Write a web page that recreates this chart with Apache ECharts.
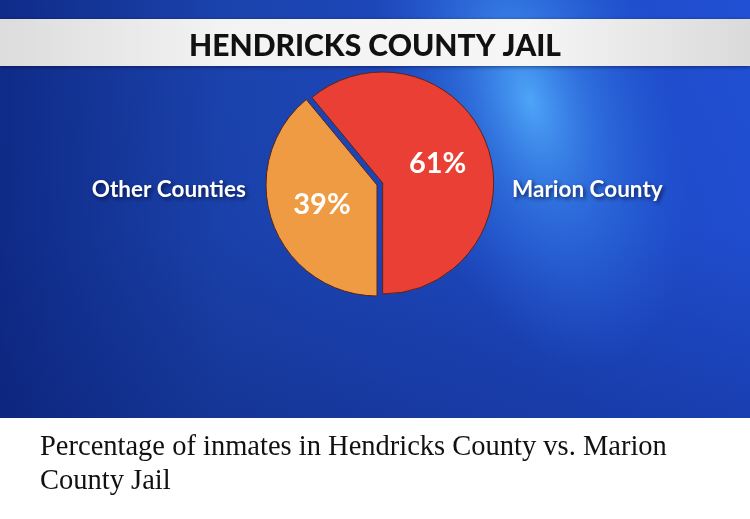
<!DOCTYPE html>
<html>
<head>
<meta charset="utf-8">
<script src="https://cdn.jsdelivr.net/npm/echarts@6/dist/echarts.min.js"></script>
<style>
  html, body { margin: 0; padding: 0; background: #fff; }
  #main { width: 750px; height: 519px; }
</style>
</head>
<body>
<div id="main"></div>
<script>
// chart data
const categories = ['Other Counties', 'Marion County'];
const shares = [39, 61];
const chartTitle = 'HENDRICKS COUNTY JAIL';
const caption = 'Percentage of inmates in Hendricks County vs. Marion\nCounty Jail';

const sliceColors = ['#ef9b43', '#e93f34'];
const cx = 377, cy = 185, radius = 111;

const chart = echarts.init(document.querySelector('#main'));

const pieData = categories.map((name, i) => ({
    name: name,
    value: shares[i],
    selected: i === 1,
    itemStyle: { color: sliceColors[i] }
}));

const labelShadow = {
    textShadowColor: 'rgba(0, 0, 30, 0.65)',
    textShadowBlur: 4,
    textShadowOffsetX: 2,
    textShadowOffsetY: 2
};

let option = {
    animation: false,
    graphic: [
        // blue studio background
        {
            type: 'rect', z: -10, silent: true,
            shape: { x: 0, y: 0, width: 750, height: 418 },
            style: {
                fill: new echarts.graphic.LinearGradient(0, 0, 1, 0, [
                    { offset: 0, color: '#0f2b88' },
                    { offset: 0.3, color: '#1b43ad' },
                    { offset: 0.7, color: '#1f4ac4' },
                    { offset: 1, color: '#2150d4' }
                ])
            }
        },
        {
            // darker towards the bottom
            type: 'rect', z: -9, silent: true,
            shape: { x: 0, y: 0, width: 750, height: 418 },
            style: {
                fill: new echarts.graphic.LinearGradient(0, 0, 0, 1, [
                    { offset: 0, color: 'rgba(10, 30, 110, 0)' },
                    { offset: 0.55, color: 'rgba(10, 30, 110, 0.05)' },
                    { offset: 1, color: 'rgba(10, 30, 110, 0.35)' }
                ])
            }
        },
        {
            // light streak behind the pie
            type: 'rect', z: -8, silent: true,
            x: 530, y: 100, scaleY: 2.0, rotation: 0.3,
            shape: { x: -140, y: -140, width: 280, height: 280 },
            style: {
                fill: new echarts.graphic.RadialGradient(0.5, 0.5, 0.5, [
                    { offset: 0, color: 'rgba(80, 170, 250, 0.95)' },
                    { offset: 0.4, color: 'rgba(60, 140, 240, 0.55)' },
                    { offset: 1, color: 'rgba(40, 110, 230, 0)' }
                ])
            }
        },
        // title banner
        {
            type: 'rect', z: -5, silent: true,
            shape: { x: 0, y: 19, width: 750, height: 47 },
            style: {
                fill: new echarts.graphic.LinearGradient(0, 0, 1, 0, [
                    { offset: 0, color: '#dcdcdc' },
                    { offset: 0.3, color: '#f3f3f3' },
                    { offset: 0.7, color: '#f6f6f6' },
                    { offset: 1, color: '#dadada' }
                ]),
                shadowColor: 'rgba(0, 0, 40, 0.5)',
                shadowBlur: 4,
                shadowOffsetY: 1
            }
        },
        // caption under the picture
        {
            type: 'text', left: 40, top: 431, silent: true,
            style: {
                text: caption,
                font: '28.5px "Liberation Serif", serif',
                lineHeight: 34,
                fill: '#111'
            }
        }
    ],
    title: {
        text: chartTitle,
        left: 'center',
        top: 26,
        textStyle: {
            fontFamily: 'Lato',
            fontWeight: 900,
            fontSize: 30,
            color: '#111'
        }
    },
    series: [
        {
            type: 'pie',
            center: [cx, cy],
            radius: radius,
            startAngle: -90,
            clockwise: true,
            selectedMode: 'single',
            selectedOffset: 6,
            emphasis: { disabled: true },
            itemStyle: { borderColor: '#5a2418', borderWidth: 1 },
            label: {
                position: 'inside',
                formatter: '{c}%',
                fontFamily: 'Lato',
                fontWeight: 'bold',
                fontSize: 29,
                color: '#fff'
            },
            data: pieData
        },
        {
            // outer name labels
            type: 'pie',
            silent: true,
            center: [cx, cy],
            radius: radius,
            startAngle: -90,
            clockwise: true,
            emphasis: { disabled: true },
            itemStyle: { color: 'rgba(0,0,0,0)', borderWidth: 0 },
            labelLine: { show: false },
            label: Object.assign({
                position: 'outside',
                formatter: '{b}',
                fontFamily: 'Lato',
                fontWeight: 'bold',
                fontSize: 22.5,
                color: '#fff'
            }, labelShadow),
            labelLayout: (p) => p.dataIndex === 0
                ? { x: cx - radius - 20, y: cy + 5, align: 'right', verticalAlign: 'middle' }
                : { x: cx + radius + 24, y: cy + 5, align: 'left', verticalAlign: 'middle' },
            data: categories.map((name, i) => ({ name: name, value: shares[i] }))
        }
    ]
};
chart.setOption(option);
</script>
</body>
</html>
